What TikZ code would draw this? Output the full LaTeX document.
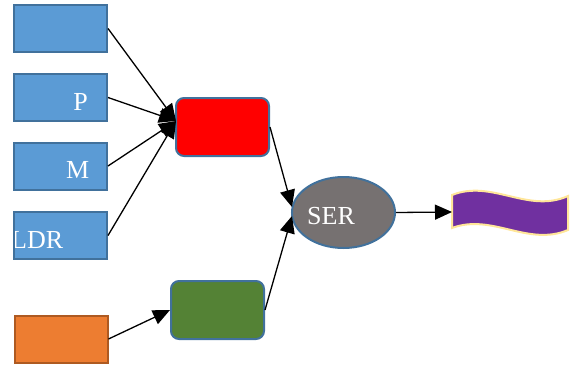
\documentclass[tikz,border=0pt]{standalone}
\usepackage{fontspec}
\setmainfont{Liberation Serif}
\usetikzlibrary{arrows.meta,shapes.geometric}
\definecolor{bluefill}{HTML}{5B9BD5}
\definecolor{blueline}{HTML}{41719C}
\definecolor{orangefill}{HTML}{ED7D31}
\definecolor{orangeline}{HTML}{AE5A21}
\definecolor{greenfill}{HTML}{548235}
\definecolor{greyfill}{HTML}{767171}
\definecolor{purplefill}{HTML}{7030A0}
\definecolor{yellowline}{HTML}{FFE699}
\tikzset{
  sqbox/.style={draw=blueline,fill=bluefill,line width=2pt,minimum width=93pt,minimum height=47pt,inner sep=0pt},
  rbox/.style={draw=blueline,line width=2pt,rounded corners=8pt,minimum width=93pt,minimum height=58pt,inner sep=0pt},
  lbl/.style={text=white,font=\fontsize{26}{30}\selectfont,inner sep=0pt},
  conn/.style={line width=1.3pt,-{Triangle[length=17pt,width=15pt]}}
}
\begin{document}
\begin{tikzpicture}[x=1pt,y=-1pt]
\useasboundingbox (0,0) rectangle (571,367);
\node[sqbox] (b1) at (60.5,28.5) {};
\node[sqbox] (bp) at (60.5,97.5) {};
\node[sqbox] (bm) at (60.5,166) {};
\node[sqbox] (bl) at (60.5,235.5) {};
\node[sqbox,draw=orangeline,fill=orangefill] (bo) at (61,339) {};
\node[rbox,fill=red] (red) at (222.5,127) {};
\node[rbox,fill=greenfill] (grn) at (217.5,310) {};
\node[ellipse,draw=blueline,fill=greyfill,line width=2pt,minimum width=103pt,minimum height=71pt,inner sep=0pt] (ser) at (343.5,212.5) {};
\node[lbl,anchor=base east] (lp) at (88,110) {P};
\node[lbl,anchor=base east] (lm) at (89.5,178) {M};
\begin{scope}
\clip (15,213) rectangle (106,258);
\node[lbl,anchor=base west] (lldr) at (11,248) {LDR};
\end{scope}
\node[lbl,anchor=base west] (lser) at (307,224) {SER};
% wave
\draw[draw=yellowline,fill=purplefill,line width=2pt]
  (452,195) .. controls (492,179) and (528,214) .. (568,196)
  -- (568,230) .. controls (528,247) and (492,213) .. (452,228) -- cycle;
\coordinate (wv) at (452,212);
\coordinate (rin) at (176,121);
\coordinate (sin1) at (292,207);
\coordinate (sin2) at (292,216);
\draw[conn] (b1.east) -- (rin);
\draw[conn] (bp.east) -- (rin);
\draw[conn] (bm.east) -- (rin);
\draw[conn] (bl.east) -- (rin);
\draw[conn] (red.east) -- (sin1);
\draw[conn] (grn.east) -- (sin2);
\draw[conn] (bo.east) -- (grn.west);
\draw[conn] (ser.east) -- (wv);
\end{tikzpicture}
\end{document}
